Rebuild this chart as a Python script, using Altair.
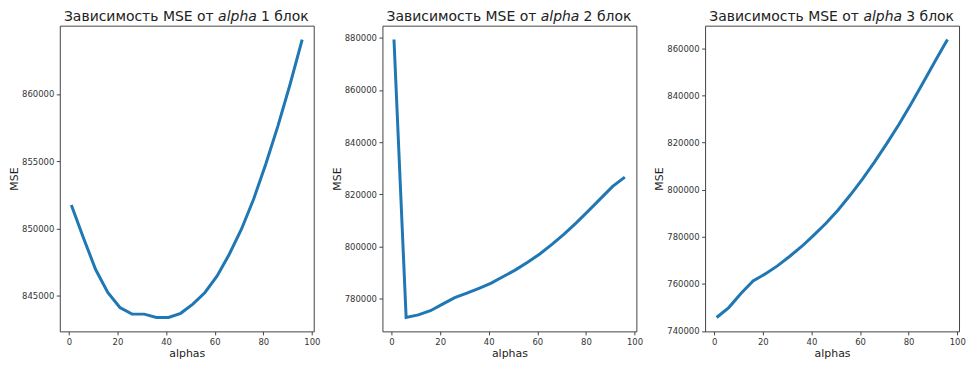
import altair as alt
import pandas as pd

alphas = [1, 6, 11, 16, 21, 26, 31, 36, 41, 46, 51, 56, 61, 66, 71, 76, 81, 86, 91, 96]

mse_block1 = [851750, 849300, 846950, 845250, 844130, 843640, 843640, 843390, 843390, 843700,
              844380, 845250, 846480, 848090, 849950, 852170, 854770, 857610, 860700, 864040]
mse_block2 = [879300, 772800, 773800, 775400, 777900, 780400, 782100, 784000, 786000, 788500,
              791050, 793980, 797150, 800840, 804770, 809070, 813650, 818340, 823030, 826600]
mse_block3 = [745700, 749900, 755900, 761200, 764200, 767600, 771600, 775850, 780700, 785700,
              791360, 797690, 804440, 811740, 819500, 827650, 836380, 845500, 854660, 863700]

title_head = "Зависимость MSE от"
title_var = "alpha"
block_labels = ["1 блок", "2 блок", "3 блок"]

y_ticks = [
    [845000, 850000, 855000, 860000],
    [780000, 800000, 820000, 840000, 860000, 880000],
    [740000, 760000, 780000, 800000, 820000, 840000, 860000],
]
x_ticks = [0, 20, 40, 60, 80, 100]

FONT = "DejaVu Sans"
W, H = 255, 307
TITLE_SIZE = 14
TITLE_Y = -5


def margin_domain(vals, frac=0.05):
    lo, hi = min(vals), max(vals)
    pad = (hi - lo) * frac
    return [lo - pad, hi + pad]


def title_text(text, x, align, style="normal"):
    return (
        alt.Chart(pd.DataFrame({"t": [text]}))
        .mark_text(font=FONT, fontSize=TITLE_SIZE, fontStyle=style, align=align,
                   baseline="alphabetic", color="#222222")
        .encode(text="t:N", x=alt.value(x), y=alt.value(TITLE_Y))
    )


def panel(series, block, yt):
    df = pd.DataFrame({"alphas": alphas, "MSE": series})
    line = (
        alt.Chart(df)
        .mark_line(color="#1f77b4", strokeWidth=3, clip=True)
        .encode(
            x=alt.X("alphas:Q",
                    scale=alt.Scale(domain=margin_domain(alphas), nice=False, zero=False),
                    axis=alt.Axis(values=x_ticks, format="d", title="alphas")),
            y=alt.Y("MSE:Q",
                    scale=alt.Scale(domain=margin_domain(series), nice=False, zero=False),
                    axis=alt.Axis(values=yt, format="d", title="MSE")),
        )
    )
    c = W / 2
    t1 = title_text(title_head, c + 27, "right")
    t2 = title_text(title_var, c + 31.5, "left", "italic")
    t3 = title_text(block, c + 74.5, "left")
    return alt.layer(line, t1, t2, t3).properties(width=W, height=H)


charts = [panel(s, b, yt) for s, b, yt in
          zip([mse_block1, mse_block2, mse_block3], block_labels, y_ticks)]

chart = (
    alt.hconcat(*charts, spacing=69, bounds="flush")
    .configure(padding={"left": 0, "right": 0, "top": 0, "bottom": 0})
    .configure_view(stroke="#444444", strokeWidth=1)
    .configure_axis(
        domain=False, grid=False,
        tickColor="#444444", tickSize=3.5, tickWidth=1,
        labelFont=FONT, labelFontSize=8.5, labelColor="#333333", labelPadding=2.5,
        titleFont=FONT, titleFontSize=11, titleFontWeight="normal", titleColor="#222222",
    )
    .configure_axisY(titlePadding=2)
    .configure_axisX(titlePadding=2)
)

chart.save("out.html", embed_options={"renderer": "svg", "actions": False})
